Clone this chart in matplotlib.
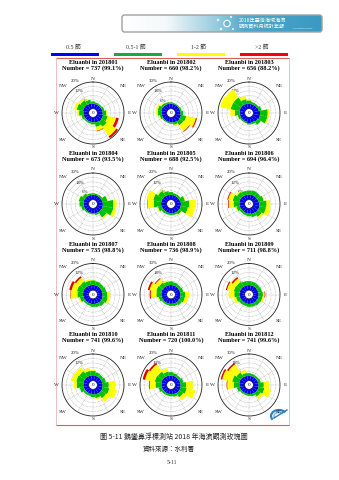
import numpy as np
import matplotlib
matplotlib.use("Agg")
import matplotlib.pyplot as plt
from matplotlib.patches import FancyBboxPatch, Circle, Rectangle, Arc
from matplotlib.colors import LinearSegmentedColormap

# ---------------- data ----------------
months = ["201801", "201802", "201803", "201804", "201805", "201806",
          "201807", "201808", "201809", "201810", "201811", "201812"]
counts = [737, 660, 656, 673, 688, 694, 735, 736, 711, 741, 720, 741]
rates = [99.1, 98.2, 88.2, 93.5, 92.5, 96.4, 98.8, 98.9, 98.8, 99.6, 100.0, 99.6]
ring_max = [20, 30, 20, 30, 20, 20, 20, 30, 20, 20, 20, 30]
ring_labels = {20: ["20%", "12%", "6%"], 30: ["30%", "18%", "6%"]}

compass = ["N", "NNE", "NE", "ENE", "E", "ESE", "SE", "SSE",
           "S", "SSW", "SW", "WSW", "W", "WNW", "NW", "NNW"]
speed_labels = ["0.5 節", "0.5-1 節", "1-2 節", ">2 節"]

# frequency (%) per direction, one row per month
pct_blue = [
    [3.8, 3.6, 3.6, 3.8, 4.0, 4.4, 4.6, 4.2, 3.8, 3.6, 3.6, 3.8, 4.0, 4.4, 4.4, 4.0],
    [5.6, 5.4, 5.4, 5.6, 6.0, 6.6, 6.8, 6.2, 5.8, 5.4, 5.4, 5.6, 6.0, 6.4, 6.0, 5.8],
    [3.6, 3.6, 3.8, 4.2, 5.0, 5.2, 4.6, 4.0, 4.4, 3.6, 3.4, 3.6, 3.8, 4.0, 4.0, 3.8],
    [5.6, 5.6, 5.6, 5.8, 6.2, 6.4, 6.2, 5.8, 5.6, 5.4, 5.4, 5.6, 5.8, 6.0, 5.8, 5.6],
    [3.6, 3.6, 3.6, 3.8, 4.2, 4.2, 4.0, 3.8, 3.6, 3.6, 3.6, 3.8, 4.2, 4.2, 4.0, 3.8],
    [3.8, 3.8, 3.8, 4.0, 4.4, 4.8, 4.8, 4.4, 4.0, 3.8, 3.6, 3.8, 4.0, 4.2, 4.0, 3.8],
    [4.0, 3.8, 3.8, 3.8, 4.0, 4.2, 4.2, 4.0, 4.0, 3.8, 3.8, 4.0, 4.2, 4.4, 4.2, 4.0],
    [5.8, 5.6, 5.6, 5.6, 5.8, 6.0, 6.0, 5.8, 5.6, 5.6, 5.6, 5.8, 6.0, 6.2, 6.0, 5.8],
    [3.8, 3.8, 3.8, 3.8, 4.0, 4.0, 4.0, 3.8, 3.8, 3.6, 3.6, 3.8, 4.0, 4.0, 4.0, 3.8],
    [4.0, 3.8, 3.8, 3.8, 4.0, 4.2, 4.2, 4.0, 3.8, 3.6, 3.6, 3.8, 4.0, 4.2, 4.2, 4.0],
    [3.8, 3.8, 3.6, 3.8, 4.0, 4.2, 4.2, 3.8, 3.6, 3.6, 3.6, 3.8, 4.0, 4.2, 4.2, 4.0],
    [5.4, 5.4, 5.4, 5.6, 6.0, 6.2, 6.0, 5.6, 5.4, 5.2, 5.2, 5.6, 6.0, 6.4, 6.2, 5.6],
]
pct_green = [
    [1.6, 1.2, 1.2, 1.6, 2.6, 3.6, 4.6, 3.2, 1.6, 1.2, 1.2, 1.8, 3.2, 4.8, 3.8, 3.0],
    [1.6, 1.2, 1.2, 1.6, 3.0, 6.0, 5.0, 2.6, 1.4, 1.2, 1.4, 2.4, 4.0, 4.0, 2.6, 1.8],
    [2.6, 1.6, 1.4, 2.0, 5.8, 5.6, 2.8, 1.4, 1.0, 1.0, 1.2, 1.8, 3.6, 6.8, 6.8, 3.6],
    [1.6, 1.4, 1.8, 5.8, 12.0, 12.0, 7.2, 2.0, 1.2, 1.2, 1.6, 3.0, 4.6, 5.4, 3.5, 1.8],
    [2.1, 1.4, 1.6, 3.6, 6.2, 5.5, 2.2, 1.4, 1.4, 1.4, 1.6, 2.9, 5.5, 6.2, 4.5, 2.9],
    [3.0, 3.4, 3.2, 4.0, 5.5, 5.0, 3.5, 2.4, 2.0, 1.6, 1.6, 2.6, 4.4, 5.0, 3.6, 3.0],
    [3.4, 3.0, 2.6, 3.0, 3.4, 3.9, 3.0, 2.4, 2.0, 1.6, 1.6, 2.8, 4.3, 4.6, 4.3, 3.4],
    [4.0, 3.4, 3.0, 3.6, 5.2, 5.0, 3.6, 2.8, 2.4, 2.0, 2.0, 3.4, 5.6, 6.0, 5.4, 4.2],
    [3.0, 2.8, 2.6, 2.8, 3.2, 3.0, 2.6, 2.4, 2.2, 2.0, 2.2, 2.8, 3.8, 4.4, 4.0, 3.2],
    [3.4, 2.6, 2.2, 2.8, 4.6, 5.0, 4.4, 2.8, 2.0, 1.6, 1.8, 3.0, 5.0, 5.4, 5.0, 3.6],
    [2.6, 2.0, 1.8, 2.4, 4.0, 4.6, 3.6, 2.0, 1.6, 1.4, 1.6, 2.4, 4.4, 5.0, 4.6, 3.0],
    [3.0, 2.6, 2.4, 3.0, 5.8, 6.6, 4.6, 2.6, 2.0, 1.8, 2.0, 3.4, 6.2, 8.1, 6.0, 3.4],
]
pct_yellow = [
    [0.0, 0.0, 0.0, 0.0, 0.6, 6.4, 8.6, 3.0, 0.2, 0.0, 0.0, 0.3, 1.4, 2.0, 1.6, 0.6],
    [0.0, 0.0, 0.0, 0.0, 0.6, 11.0, 8.0, 1.6, 0.0, 0.0, 0.0, 0.6, 1.8, 2.0, 0.6, 0.0],
    [0.4, 0.0, 0.0, 0.0, 1.4, 1.0, 0.0, 0.0, 0.0, 0.0, 0.0, 0.4, 3.4, 8.0, 7.4, 2.3],
    [0.0, 0.0, 0.0, 0.5, 3.5, 3.5, 1.6, 0.0, 0.0, 0.0, 0.0, 0.0, 0.4, 0.4, 0.0, 0.0],
    [0.0, 0.0, 0.0, 0.5, 5.0, 5.3, 0.4, 0.0, 0.0, 0.0, 0.0, 0.8, 4.6, 5.0, 1.0, 0.3],
    [0.0, 0.0, 0.0, 0.4, 2.8, 3.3, 1.4, 0.0, 0.0, 0.0, 0.0, 0.8, 3.6, 3.5, 0.9, 0.0],
    [0.5, 0.0, 0.0, 0.0, 2.3, 1.6, 0.0, 0.0, 0.0, 0.0, 0.0, 1.0, 5.1, 4.1, 3.5, 1.1],
    [0.0, 0.0, 0.0, 0.0, 4.5, 3.5, 0.0, 0.0, 0.0, 0.0, 0.0, 1.0, 6.3, 7.5, 4.8, 1.5],
    [0.0, 0.0, 0.0, 0.0, 1.3, 1.2, 0.0, 0.0, 0.0, 0.0, 0.0, 1.9, 4.2, 5.2, 3.3, 0.0],
    [0.8, 0.0, 0.0, 0.0, 5.0, 5.8, 3.4, 1.0, 0.0, 0.0, 0.0, 0.0, 2.3, 3.5, 3.5, 2.1],
    [0.0, 0.0, 0.0, 0.0, 5.1, 6.6, 3.0, 0.0, 0.0, 0.0, 0.0, 0.0, 4.3, 7.4, 6.6, 2.7],
    [0.0, 0.0, 0.0, 0.0, 6.1, 7.6, 3.9, 0.0, 0.0, 0.0, 0.0, 0.0, 7.5, 11.4, 10.9, 3.8],
]
pct_red = [
    [0, 0, 0, 0, 0, 2.0, 1.6, 0.4, 0, 0, 0, 0, 0, 0, 0, 0],
    [0, 0, 0, 0, 0, 1.2, 0.8, 0, 0, 0, 0, 0, 0, 0, 0, 0],
    [0, 0, 0, 0, 0, 0, 0, 0, 0, 0, 0, 0, 0, 0, 0, 0],
    [0, 0, 0, 0, 0, 0, 0, 0, 0, 0, 0, 0, 0, 0, 0, 0],
    [0, 0, 0, 0, 0, 0, 0, 0, 0, 0, 0, 0, 0.3, 0, 0, 0],
    [0, 0, 0, 0, 0, 0, 0, 0, 0, 0, 0, 0, 0.5, 0.6, 0, 0],
    [0, 0, 0, 0, 0, 0, 0, 0, 0, 0, 0, 0, 0.3, 1.8, 1.2, 0],
    [0, 0, 0, 0, 0, 0, 0, 0, 0, 0, 0, 0, 1.2, 2.0, 1.0, 0],
    [0, 0, 0, 0, 0.5, 0, 0, 0, 0, 0, 0, 0, 0, 0.8, 1.2, 0],
    [0, 0, 0, 0, 0, 0, 0, 0, 0, 0, 0, 0, 0, 0, 0, 0],
    [0, 0, 0, 0, 0, 0, 0, 0, 0, 0, 0, 0, 0.5, 1.8, 1.3, 0],
    [0, 0, 0, 0, 0, 0, 0, 0, 0, 0, 0, 0, 0.6, 1.7, 1.7, 0],
]

# ---------------- figure ----------------
W, H = 339, 480
fig = plt.figure(figsize=(W / 100, H / 100), dpi=100)
fig.patch.set_facecolor("white")
bg = fig.add_axes([0, 0, 1, 1])
bg.axis("off")

SERIF = ["Liberation Serif", "DejaVu Serif"]
MIX = ["Liberation Serif", "Noto Sans CJK TC"]
CJK = ["Noto Sans CJK TC", "DejaVu Sans"]

# header banner
bx0, by0, bx1, by1 = 122, 15, 322, 32
band_cmap = LinearSegmentedColormap.from_list(
    "banner", [(0, "#ffffff"), (0.22, "#f4f9fb"), (0.5, "#8cc6dc"), (0.62, "#4fa6c8"), (1, "#3a9ac2")])
im = bg.imshow(np.linspace(0, 1, 256)[None, :], extent=(bx0, bx1, by1, by0),
               cmap=band_cmap, aspect="auto", zorder=1)
banner = FancyBboxPatch((bx0, by0), bx1 - bx0, by1 - by0,
                        boxstyle="round,pad=0,rounding_size=2.5",
                        fc="none", ec="#a0a0a0", lw=1.0, zorder=2)
bg.add_patch(banner)
im.set_clip_path(banner)
for (x, y, r) in [(218, 20, 0.9), (231, 17, 0.7), (221, 29, 0.8), (233, 29, 0.6)]:
    bg.add_patch(Circle((x, y), r, fc="none", ec="white", lw=0.5, zorder=3))
bg.add_patch(Circle((227, 23.5), 3.2, fc="#6fb7d4", ec="white", lw=0.8, zorder=3))
bg.text(239, 20.2, "2018年臺灣海域海流", family=CJK, fontsize=3.7, color="white",
        va="center", ha="left", zorder=4)
bg.text(239, 27.2, "觀測資料月統計年報", family=CJK, fontsize=3.7, color="white",
        va="center", ha="left", zorder=4)
bg.plot([293, 312], [28, 28], color="white", lw=0.4, ls=(0, (1, 1)), zorder=4)

# speed legend
legend_colors = ["#0000ff", "#1ca64c", "#ffff00", "#ff0000"]
legend_x = [51, 114, 177, 240]
for x, c, lab in zip(legend_x, legend_colors, speed_labels):
    bg.add_patch(Rectangle((x, 53.2), 48, 3.3, fc=c, ec="none", zorder=2))
    bg.text(x + 22, 47, lab, family=MIX, fontsize=4.2, ha="center", va="center", color="#333333")

# frame around the rose panels
fx0, fx1, fy0, fy1 = 55.5, 288.5, 57.5, 424.5
bg.plot([fx0, fx1], [fy0, fy0], color="#d9605a", lw=0.8, zorder=2)
bg.plot([fx0, fx1], [fy1, fy1], color="#d9605a", lw=0.8, zorder=2)
bg.plot([fx0, fx0], [fy0, fy1], color="#e8b4b4", lw=0.6, zorder=2)
bg.plot([fx1, fx1], [fy0, fy1], color="#e8b4b4", lw=0.6, zorder=2)

# caption lines
bg.text(174, 437, "圖 5-11 鵝鑾鼻浮標測站 2018 年海流觀測玫瑰圖", family=CJK,
        fontsize=5.0, ha="center", va="center", color="#222222")
bg.text(169, 449, "資料來源：水利署", family=CJK, fontsize=4.7,
        ha="center", va="center", color="#222222")
bg.text(172, 463, "5-11", family=SERIF, fontsize=4.2, ha="center", va="center", color="#333333")

# small logo in the lower right corner of the frame
bg.add_patch(Arc((279, 416), 16, 12, theta1=150, theta2=330, color="#2f7fc1", lw=1.6, zorder=3))
bg.add_patch(Arc((279, 416), 10, 7, theta1=150, theta2=330, color="#7fc2e6", lw=1.2, zorder=3))
bg.plot([274, 287], [418, 410], color="#2f7fc1", lw=1.0, zorder=3)

bg.set_xlim(0, W)
bg.set_ylim(H, 0)

# ---------------- wind roses ----------------
rose_colors = ["#0000e6", "#00c000", "#ffff00", "#e00000"]
bands = [pct_blue, pct_green, pct_yellow, pct_red]
theta = np.deg2rad(np.arange(len(compass)) * 22.5)
width = np.deg2rad(22.5)
hole = 0.14
col_x = [93, 171, 249]
row_y = [113, 204, 294.5, 385]
R = 31
t = np.linspace(0, 2 * np.pi, 240)
dir_offsets = {"N": (0, -34.5), "S": (0, 34.5), "E": (36, 0), "W": (-36, 0),
               "NE": (30, -27), "NW": (-30, -27), "SE": (30, 27), "SW": (-30, 27)}
pct_offsets = [(-18, -32), (-13.5, -21.5), (-7.5, -12)]

for i in range(len(months)):
    cx, cy = col_x[i % 3], row_y[i // 3]
    ax = fig.add_axes([(cx - R) / W, 1 - (cy + R) / H, 2 * R / W, 2 * R / H],
                      projection="polar")
    ax.set_theta_zero_location("N")
    ax.set_theta_direction(-1)
    ax.axis("off")
    ax.set_ylim(0, 1)

    # dashed grid
    for fr in np.arange(1, 6) / 6:
        ax.plot(t, np.full_like(t, hole + (1 - hole) * fr), color="#9c9c9c",
                lw=0.35, ls=(0, (1.5, 1.5)), zorder=1)
    for a in np.deg2rad(np.arange(0, 360, 30)):
        ax.plot([a, a], [hole, 1], color="#9c9c9c", lw=0.35, ls=(0, (1.5, 1.5)), zorder=1)

    scale = (1 - hole) / ring_max[i]
    base = np.full(len(compass), hole)
    for band, colr in zip(bands, rose_colors):
        vals = np.array(band[i], dtype=float) * scale
        ax.bar(theta, vals, width=width, bottom=base, color=colr, lw=0, zorder=3)
        base = base + vals

    ax.fill(t, np.full_like(t, hole), fc="white", ec="#000060", lw=0.5, zorder=4)
    ax.plot(t, np.ones_like(t), color="#222222", lw=0.6, zorder=5, clip_on=False)
    ax.text(0, 0, "0", family=SERIF, fontsize=3.6, ha="center", va="center", zorder=6)

    # titles
    bg.text(cx, cy - 50.5, f"Eluanbi in {months[i]}", family=SERIF, fontweight="bold",
            fontsize=4.5, ha="center", va="center")
    bg.text(cx, cy - 44.5, f"Number = {counts[i]} ({rates[i]:.1f}%)", family=SERIF,
            fontweight="bold", fontsize=4.5, ha="center", va="center")
    for lab, (dx, dy) in dir_offsets.items():
        bg.text(cx + dx, cy + dy, lab, family=SERIF, fontsize=3.8,
                ha="center", va="center", color="#222222")
    for lab, (dx, dy) in zip(ring_labels[ring_max[i]], pct_offsets):
        bg.text(cx + dx, cy + dy, lab, family=SERIF, fontsize=3.5,
                ha="center", va="center", color="#222222")

fig.savefig("out.png", dpi=100, facecolor="white")
